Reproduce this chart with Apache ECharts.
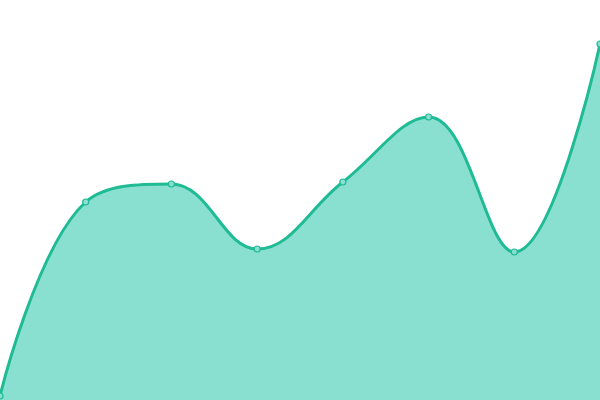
<!DOCTYPE html>
<html><head><meta charset="utf-8">
<script src="https://cdn.jsdelivr.net/npm/echarts@6/dist/echarts.min.js"></script>
<style>html,body{margin:0;padding:0;background:#fff}#c{width:600px;height:400px}</style>
</head><body><div id="c"></div>
<script>
const categories = ['1','2','3','4','5','6','7','8'];
const values = [4, 198, 216, 151, 218, 283, 148, 356];
const chart = echarts.init(document.getElementById('c'));
chart.setOption({
  animation: false,
  grid: {left: 0, right: 0, top: 0, bottom: 0},
  xAxis: {type: 'category', data: categories, boundaryGap: false, show: false},
  yAxis: {type: 'value', min: 0, max: 400, show: false},
  series: [{
    type: 'line',
    data: values,
    smooth: 0.4,
    symbol: 'circle',
    symbolSize: 6,
    showSymbol: true,
    lineStyle: {color: '#1fbb95', width: 3},
    itemStyle: {color: '#8ae0d0', borderColor: '#1fbb95', borderWidth: 1.2},
    areaStyle: {color: '#8ae0d0', opacity: 1}
  }]
});
</script></body></html>
